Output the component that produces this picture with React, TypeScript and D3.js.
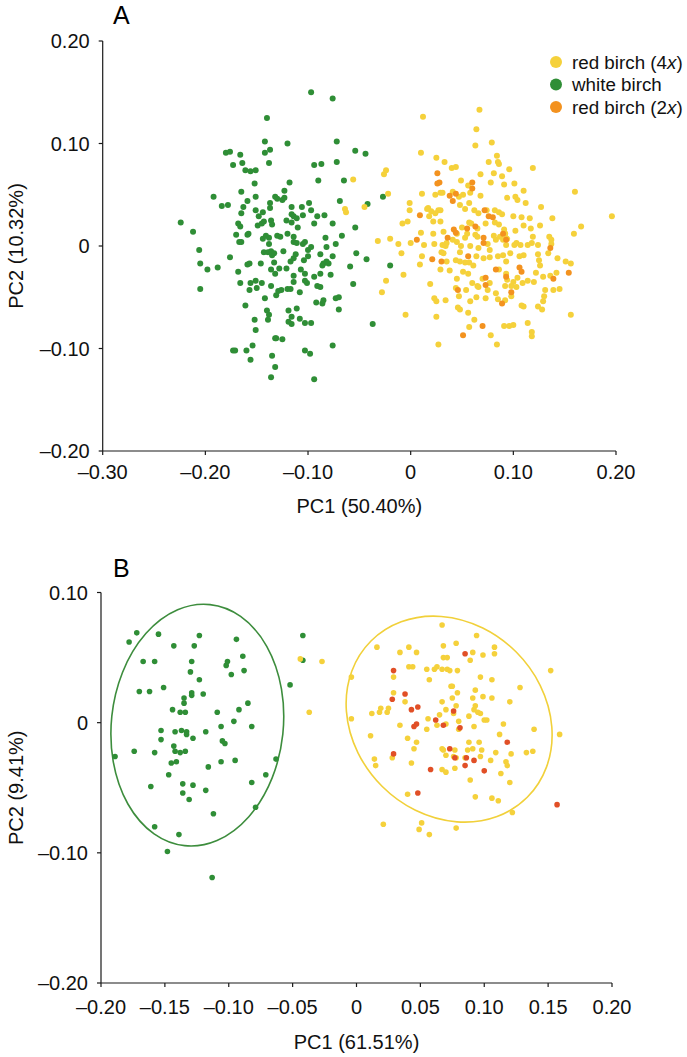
import React from "react";
import * as d3 from "d3";

type P = [number, number];

// ---------- Panel A data (PC1, PC2) ----------
const greenA: P[] = [
[-0.097,0.150],[-0.076,0.144],[-0.140,0.125],[-0.142,0.102],[-0.120,0.100],[-0.072,0.102],[-0.180,0.091],[-0.176,0.092],[-0.166,0.089],[-0.142,0.091],[-0.137,0.094],[-0.054,0.093],[-0.044,0.090],[-0.173,0.079],[-0.164,0.081],[-0.138,0.081],[-0.094,0.079],[-0.087,0.080],[-0.072,0.082],[-0.161,0.074],[-0.156,0.073],[-0.151,0.074],[-0.152,0.061],[-0.118,0.062],[-0.090,0.064],[-0.065,0.064],[-0.027,0.048],[-0.042,0.041],[-0.069,0.044],[-0.192,0.048],[-0.184,0.039],[-0.178,0.040],[-0.165,0.053],[-0.159,0.044],[-0.151,0.048],[-0.123,0.054],[-0.132,0.048],[-0.130,0.046],[-0.125,0.045],[-0.123,0.047],[-0.137,0.042],[-0.137,0.037],[-0.163,0.038],[-0.165,0.032],[-0.151,0.035],[-0.144,0.033],[-0.148,0.029],[-0.116,0.038],[-0.106,0.038],[-0.099,0.042],[-0.097,0.035],[-0.084,0.030],[-0.091,0.029],[-0.094,0.022],[-0.076,0.022],[-0.054,0.018],[-0.224,0.023],[-0.212,0.014],[-0.168,0.022],[-0.166,0.019],[-0.149,0.020],[-0.145,0.022],[-0.143,0.024],[-0.136,0.025],[-0.135,0.021],[-0.121,0.025],[-0.116,0.031],[-0.114,0.029],[-0.111,0.027],[-0.110,0.018],[-0.105,0.030],[-0.116,0.023],[-0.170,0.011],[-0.159,0.011],[-0.158,0.012],[-0.165,0.004],[-0.167,0.004],[-0.144,0.007],[-0.138,0.008],[-0.141,0.010],[-0.138,0.002],[-0.130,0.010],[-0.127,0.009],[-0.120,0.012],[-0.114,0.009],[-0.114,0.004],[-0.111,0.003],[-0.105,0.002],[-0.103,0.004],[-0.100,-0.004],[-0.097,-0.001],[-0.082,-0.001],[-0.083,0.008],[-0.073,0.002],[-0.067,0.010],[-0.206,-0.004],[-0.176,-0.011],[-0.143,-0.006],[-0.139,-0.006],[-0.136,-0.005],[-0.135,-0.009],[-0.133,-0.007],[-0.124,-0.005],[-0.117,-0.015],[-0.114,-0.012],[-0.112,-0.008],[-0.104,-0.014],[-0.100,-0.010],[-0.088,-0.008],[-0.085,-0.017],[-0.086,-0.019],[-0.082,-0.015],[-0.080,-0.017],[-0.076,-0.010],[-0.059,-0.020],[-0.053,-0.007],[-0.043,-0.013],[-0.205,-0.017],[-0.198,-0.023],[-0.188,-0.021],[-0.168,-0.025],[-0.159,-0.018],[-0.157,-0.017],[-0.146,-0.017],[-0.136,-0.023],[-0.133,-0.016],[-0.132,-0.027],[-0.128,-0.022],[-0.121,-0.022],[-0.114,-0.029],[-0.107,-0.023],[-0.103,-0.027],[-0.101,-0.036],[-0.094,-0.030],[-0.088,-0.027],[-0.078,-0.028],[-0.166,-0.036],[-0.157,-0.043],[-0.156,-0.036],[-0.151,-0.034],[-0.150,-0.041],[-0.145,-0.036],[-0.136,-0.039],[-0.131,-0.048],[-0.129,-0.044],[-0.126,-0.043],[-0.120,-0.042],[-0.117,-0.042],[-0.114,-0.035],[-0.108,-0.045],[-0.103,-0.034],[-0.091,-0.039],[-0.088,-0.040],[-0.205,-0.042],[-0.142,-0.051],[-0.092,-0.055],[-0.086,-0.056],[-0.085,-0.053],[-0.073,-0.051],[-0.070,-0.050],[-0.070,-0.062],[-0.056,-0.037],[-0.161,-0.058],[-0.140,-0.063],[-0.138,-0.067],[-0.139,-0.072],[-0.119,-0.063],[-0.116,-0.069],[-0.111,-0.061],[-0.108,-0.071],[-0.103,-0.075],[-0.097,-0.075],[-0.116,-0.076],[-0.119,-0.074],[-0.152,-0.072],[-0.151,-0.082],[-0.132,-0.090],[-0.131,-0.090],[-0.125,-0.091],[-0.173,-0.102],[-0.171,-0.102],[-0.160,-0.102],[-0.154,-0.097],[-0.156,-0.111],[-0.135,-0.107],[-0.132,-0.118],[-0.136,-0.128],[-0.103,-0.102],[-0.098,-0.105],[-0.094,-0.130],[-0.076,-0.097],[-0.037,-0.076],[-0.020,-0.019]
];

const yellowA: P[] = [
[-0.056,0.065],[-0.064,0.036],[-0.063,0.033],
[0.012,0.126],[0.067,0.133],[0.064,0.114],[0.063,0.098],[0.079,0.101],[0.010,0.091],[0.025,0.086],[0.033,0.082],[0.040,0.076],[0.044,0.077],[0.076,0.082],[0.084,0.088],[0.085,0.082],[0.086,0.080],[0.096,0.075],[0.119,0.076],[0.068,0.070],[0.081,0.071],[0.089,0.068],[-0.026,0.070],[-0.024,0.074],[-0.022,0.051],[-0.045,0.038],[0.011,0.051],[0.024,0.050],[0.029,0.052],[0.031,0.052],[0.041,0.053],[0.049,0.064],[0.056,0.059],[0.051,0.050],[0.058,0.052],[0.047,0.048],[0.068,0.049],[0.078,0.062],[0.091,0.060],[0.101,0.061],[0.110,0.054],[0.094,0.047],[0.102,0.048],[0.104,0.045],[0.112,0.042],[0.127,0.038],[0.160,0.053],[-0.001,0.042],[-0.001,0.035],[0.016,0.036],[0.017,0.037],[0.020,0.034],[0.024,0.032],[0.027,0.035],[0.029,0.035],[0.018,0.029],[0.022,0.024],[0.029,0.024],[0.048,0.040],[0.053,0.036],[0.057,0.042],[0.062,0.035],[0.066,0.032],[0.074,0.035],[0.082,0.035],[0.086,0.033],[0.089,0.031],[0.100,0.029],[0.108,0.028],[0.116,0.027],[0.138,0.027],[-0.008,0.022],[-0.003,0.024],[0.010,0.013],[0.022,0.012],[0.032,0.014],[0.045,0.012],[0.057,0.023],[0.050,0.018],[0.059,0.022],[0.065,0.017],[0.073,0.022],[0.082,0.023],[0.086,0.021],[0.091,0.016],[0.092,0.012],[0.102,0.015],[0.110,0.020],[0.117,0.017],[0.126,0.020],[0.166,0.019],[0.196,0.029],[0.159,0.012],[-0.032,0.005],[-0.020,0.007],[-0.012,0.002],[-0.009,-0.007],[0.000,0.003],[0.013,0.001],[0.023,0.002],[0.031,0.001],[0.034,0.000],[0.035,0.003],[0.041,0.006],[0.045,0.004],[0.055,0.012],[0.053,0.008],[0.049,0.000],[0.048,-0.006],[0.058,0.000],[0.063,0.011],[0.065,0.009],[0.066,-0.002],[0.075,0.002],[0.077,-0.004],[0.081,0.010],[0.083,0.006],[0.087,0.009],[0.090,0.006],[0.092,0.012],[0.094,0.007],[0.093,0.001],[0.101,0.001],[0.103,0.003],[0.107,0.001],[0.114,0.001],[0.119,0.009],[0.118,0.003],[0.124,0.001],[0.135,0.009],[0.137,0.006],[0.137,0.002],[0.011,-0.010],[0.009,-0.018],[0.030,-0.006],[0.032,-0.007],[0.035,-0.015],[0.044,-0.014],[0.048,-0.015],[0.053,-0.016],[0.057,-0.016],[0.064,-0.010],[0.061,-0.019],[0.071,-0.012],[0.077,-0.011],[0.085,-0.010],[0.090,-0.009],[0.097,-0.007],[0.093,-0.015],[0.106,-0.010],[0.110,-0.009],[0.124,-0.008],[0.125,-0.014],[0.126,-0.019],[0.134,-0.007],[0.143,-0.012],[0.151,-0.015],[0.156,-0.017],[-0.024,-0.034],[-0.028,-0.045],[-0.007,-0.028],[0.019,-0.037],[0.029,-0.023],[0.038,-0.024],[0.045,-0.032],[0.051,-0.025],[0.056,-0.027],[0.060,-0.036],[0.065,-0.039],[0.070,-0.032],[0.077,-0.036],[0.086,-0.023],[0.093,-0.027],[0.094,-0.033],[0.100,-0.035],[0.104,-0.031],[0.114,-0.034],[0.120,-0.035],[0.122,-0.026],[0.129,-0.030],[0.136,-0.029],[0.142,-0.026],[0.044,-0.041],[0.054,-0.043],[0.066,-0.040],[0.075,-0.043],[0.083,-0.046],[0.092,-0.039],[0.098,-0.039],[0.103,-0.040],[0.109,-0.036],[0.131,-0.043],[0.139,-0.043],[0.145,-0.042],[0.023,-0.051],[0.025,-0.054],[0.034,-0.053],[0.047,-0.049],[0.058,-0.054],[0.064,-0.050],[0.073,-0.051],[0.085,-0.052],[0.092,-0.053],[0.098,-0.049],[0.108,-0.058],[0.110,-0.059],[0.124,-0.059],[0.129,-0.054],[0.130,-0.049],[0.048,-0.062],[0.046,-0.060],[0.056,-0.065],[0.062,-0.072],[0.057,-0.079],[-0.005,-0.067],[0.025,-0.069],[0.078,-0.087],[0.091,-0.078],[0.096,-0.078],[0.100,-0.077],[0.114,-0.075],[0.118,-0.084],[0.118,-0.088],[0.128,-0.062],[0.156,-0.067],[0.027,-0.096],[0.084,-0.096]
];

const orangeA: P[] = [
[0.026,0.071],[0.028,0.062],[0.026,0.061],[0.060,0.062],[0.060,0.056],[0.038,0.049],[0.041,0.044],[0.044,0.051],[0.009,0.030],[0.072,0.035],[0.076,0.029],[0.080,0.028],[0.042,0.016],[0.044,0.013],[0.036,0.008],[0.006,0.006],[0.055,0.017],[0.063,0.019],[0.071,0.003],[0.071,0.008],[0.090,0.012],[0.021,-0.013],[0.030,-0.015],[0.056,-0.010],[0.083,-0.023],[0.106,-0.021],[0.108,-0.025],[0.093,-0.030],[0.073,-0.031],[0.073,-0.038],[0.046,-0.043],[0.098,-0.045],[0.089,-0.056],[0.154,-0.026],[0.139,-0.032],[0.070,-0.078],[0.051,-0.087],[0.136,-0.002],[0.093,0.006]
];

// ---------- Panel B data (PC1, PC2) ----------
const greenB: P[] = [
[-0.172,0.069],[-0.178,0.062],[-0.155,0.068],[-0.143,0.059],[-0.127,0.059],[-0.123,0.067],[-0.094,0.064],[-0.167,0.047],[-0.158,0.047],[-0.129,0.047],[-0.130,0.039],[-0.123,0.033],[-0.102,0.044],[-0.101,0.047],[-0.089,0.051],[-0.088,0.040],[-0.098,0.037],[-0.170,0.024],[-0.162,0.024],[-0.151,0.027],[-0.135,0.019],[-0.135,0.015],[-0.129,0.021],[-0.129,0.023],[-0.120,0.022],[-0.144,0.010],[-0.138,0.008],[-0.134,0.008],[-0.109,0.008],[-0.092,0.010],[-0.085,0.015],[-0.096,0.001],[-0.082,-0.003],[-0.106,-0.003],[-0.153,-0.006],[-0.142,-0.007],[-0.137,-0.006],[-0.133,-0.007],[-0.133,-0.009],[-0.128,-0.012],[-0.118,-0.007],[-0.105,-0.014],[-0.103,-0.016],[-0.153,-0.013],[-0.189,-0.026],[-0.174,-0.022],[-0.158,-0.023],[-0.143,-0.018],[-0.142,-0.022],[-0.138,-0.023],[-0.134,-0.022],[-0.145,-0.031],[-0.141,-0.030],[-0.147,-0.040],[-0.116,-0.034],[-0.106,-0.030],[-0.095,-0.029],[-0.063,-0.028],[-0.071,-0.040],[-0.082,-0.046],[-0.161,-0.049],[-0.136,-0.047],[-0.128,-0.048],[-0.136,-0.054],[-0.118,-0.052],[-0.131,-0.059],[-0.112,-0.070],[-0.079,-0.065],[-0.158,-0.080],[-0.139,-0.086],[-0.148,-0.099],[-0.113,-0.119],[-0.052,0.029],[-0.042,0.067],[-0.042,0.048]
];

const yellowB: P[] = [
[-0.044,0.049],[-0.027,0.047],[-0.037,0.008],
[0.067,0.075],[0.094,0.067],[0.016,0.058],[0.034,0.054],[0.041,0.058],[0.047,0.054],[0.068,0.059],[0.078,0.061],[0.091,0.054],[0.099,0.052],[0.108,0.058],[0.108,0.053],[0.089,0.048],[0.068,0.050],[0.071,0.050],[0.041,0.043],[0.044,0.043],[0.055,0.041],[0.061,0.041],[0.063,0.043],[0.067,0.041],[0.071,0.041],[0.073,0.040],[0.079,0.040],[0.057,0.033],[0.097,0.035],[0.106,0.033],[0.152,0.040],[-0.004,0.035],[0.029,0.035],[0.029,0.023],[0.038,0.016],[0.074,0.028],[0.075,0.028],[0.079,0.023],[0.093,0.025],[0.091,0.019],[0.099,0.020],[0.106,0.019],[0.128,0.027],[0.120,0.016],[0.075,0.019],[0.067,0.016],[0.078,0.013],[0.070,0.010],[0.019,0.011],[0.018,0.008],[0.012,0.007],[0.024,0.008],[0.025,0.011],[-0.004,0.003],[0.056,0.003],[0.063,-0.002],[0.065,0.006],[0.070,-0.001],[0.076,0.007],[0.080,0.001],[0.080,-0.005],[0.088,0.005],[0.092,0.010],[0.093,0.013],[0.095,0.008],[0.097,0.007],[0.100,0.002],[0.102,0.002],[0.092,-0.003],[0.115,-0.001],[0.112,-0.009],[0.139,-0.005],[0.159,-0.009],[0.011,-0.010],[0.034,-0.002],[0.055,-0.005],[0.040,-0.012],[0.047,-0.015],[0.045,-0.020],[0.067,-0.020],[0.068,-0.021],[0.070,-0.025],[0.077,-0.021],[0.078,-0.027],[0.076,-0.026],[0.085,-0.027],[0.088,-0.015],[0.096,-0.015],[0.091,-0.020],[0.087,-0.021],[0.098,-0.021],[0.097,-0.026],[0.109,-0.023],[0.105,-0.029],[0.117,-0.030],[0.118,-0.033],[0.121,-0.024],[0.133,-0.023],[0.138,-0.022],[0.028,-0.027],[0.014,-0.028],[0.015,-0.033],[0.043,-0.031],[0.067,-0.036],[0.070,-0.038],[0.077,-0.035],[0.089,-0.044],[0.113,-0.039],[0.120,-0.046],[0.040,-0.055],[0.093,-0.057],[0.106,-0.058],[0.111,-0.060],[0.122,-0.069],[0.021,-0.078],[0.051,-0.077],[0.049,-0.082],[0.057,-0.086],[0.078,-0.081]
];

const redB: P[] = [
[0.029,0.040],[0.085,0.053],[0.038,0.022],[0.028,0.018],[0.043,0.010],[0.048,0.012],[0.076,0.009],[0.062,0.002],[0.068,-0.002],[0.081,-0.004],[0.045,-0.003],[0.047,-0.001],[0.118,-0.015],[0.073,-0.020],[0.086,-0.027],[0.092,-0.029],[0.085,-0.033],[0.100,-0.037],[0.058,-0.036],[0.029,-0.024],[0.048,-0.054],[0.157,-0.063],[0.077,-0.027]
];

// confidence ellipses: [cx, cy, rx (PC1 units), ry (PC2 units), rotation deg]
const ellipseGreenB = [-0.1246, -0.0019, 0.0673, 0.0931, 6];
const ellipseYellowB = [0.0725, 0.0027, 0.0865, 0.0729, 45];

const xTicksA = [-0.3, -0.2, -0.1, 0, 0.1, 0.2];
const yTicksA = [-0.2, -0.1, 0, 0.1, 0.2];
const xTicksB = [-0.2, -0.15, -0.1, -0.05, 0, 0.05, 0.1, 0.15, 0.2];
const yTicksB = [-0.2, -0.1, 0, 0.1];

const legendItems = [
  { pre: "red birch (4", it: "x", post: ")", key: "y" },
  { pre: "white birch", it: "", post: "", key: "g" },
  { pre: "red birch (2", it: "x", post: ")", key: "o" },
];

const C = {
  yellow: "#f5d13b",
  green: "#2f8e36",
  orange: "#f3921f",
  red: "#e14f26",
  greenLine: "#3d8d3d",
  yellowLine: "#f1d03a",
  axis: "#1a1a1a",
};

const FONT = "'Liberation Sans', Arial, Helvetica, sans-serif";
const FS = 20;

const fmt = (v: number) => {
  if (Math.abs(v) < 1e-9) return "0";
  return (v < 0 ? "\u2013" : "") + Math.abs(v).toFixed(2);
};

function Axes({ x, y, xt, yt, xLabelDy, title, ytitle, xtitleY }: any) {
  const [x0, x1] = x.range();
  const [y0, y1] = y.range();
  return (
    <g fontFamily={FONT} fontSize={FS} fill="#111">
      <line x1={x0} x2={x0} y1={y1} y2={y0} stroke={C.axis} strokeWidth={1.2} />
      <line x1={x0} x2={x1} y1={y0} y2={y0} stroke={C.axis} strokeWidth={1.2} />
      {yt.map((t: number) => (
        <g key={"y" + t}>
          <line x1={x0 - 4} x2={x0} y1={y(t)} y2={y(t)} stroke={C.axis} strokeWidth={1.2} />
          <text x={x0 - 13} y={y(t)} dy="0.36em" textAnchor="end">{fmt(t)}</text>
        </g>
      ))}
      {xt.map((t: number) => (
        <g key={"x" + t}>
          <line x1={x(t)} x2={x(t)} y1={y0} y2={y0 + 4} stroke={C.axis} strokeWidth={1.2} />
          <text x={x(t)} y={y0 + xLabelDy} textAnchor="middle">{fmt(t)}</text>
        </g>
      ))}
      <text x={(x0 + x1) / 2} y={xtitleY} textAnchor="middle">{title}</text>
      <text transform={`translate(23,${(y0 + y1) / 2}) rotate(-90)`} textAnchor="middle">{ytitle}</text>
    </g>
  );
}

export default function App() {
  const xA = d3.scaleLinear().domain([-0.3, 0.2]).range([102.7, 616]);
  const yA = d3.scaleLinear().domain([-0.2, 0.2]).range([451, 41]);
  const xB = d3.scaleLinear().domain([-0.2, 0.2]).range([101, 612]);
  const yB = d3.scaleLinear().domain([-0.2, 0.1]).range([983, 592.5]);

  const dots = (data: P[], x: any, y: any, fill: string, r: number, k: string) =>
    data.map((d, i) => <circle key={k + i} cx={x(d[0])} cy={y(d[1])} r={r} fill={fill} />);

  const ell = (e: number[], stroke: string) => {
    const cx = xB(e[0]);
    const cy = yB(e[1]);
    const rx = xB(e[0] + e[2]) - cx;
    const ry = cy - yB(e[1] + e[3]);
    return (
      <ellipse cx={cx} cy={cy} rx={rx} ry={ry} fill="none" stroke={stroke} strokeWidth={1.6}
        transform={`rotate(${e[4]} ${cx} ${cy})`} />
    );
  };

  const legendColor: Record<string, string> = { y: C.yellow, g: C.green, o: C.orange };

  return (
    <svg width={687} height={1057} style={{ position: "absolute", left: 0, top: 0, background: "#fff" }}>
      <rect width={687} height={1057} fill="#fff" />
      {/* Panel A */}
      <text x={113} y={24} fontFamily={FONT} fontSize={25}>A</text>
      <Axes x={xA} y={yA} xt={xTicksA} yt={yTicksA} xLabelDy={28} title="PC1 (50.40%)" ytitle="PC2 (10.32%)" xtitleY={513} />
      {dots(greenA, xA, yA, C.green, 3, "ga")}
      {dots(yellowA, xA, yA, C.yellow, 3, "ya")}
      {dots(orangeA, xA, yA, C.orange, 3, "oa")}
      <g fontFamily={FONT} fontSize={18.8} fill="#111">
        {legendItems.map((it, i) => (
          <g key={it.key}>
            <circle cx={556} cy={62 + i * 22.5} r={6} fill={legendColor[it.key]} />
            <text x={572} y={62 + i * 22.5} dy="0.35em">
              {it.pre}
              {it.it && <tspan fontStyle="italic">{it.it}</tspan>}
              {it.post}
            </text>
          </g>
        ))}
      </g>

      {/* Panel B */}
      <text x={113} y={577} fontFamily={FONT} fontSize={25}>B</text>
      <Axes x={xB} y={yB} xt={xTicksB} yt={yTicksB} xLabelDy={31} title="PC1 (61.51%)" ytitle="PC2 (9.41%)" xtitleY={1049} />
      {ell(ellipseGreenB, C.greenLine)}
      {ell(ellipseYellowB, C.yellowLine)}
      {dots(greenB, xB, yB, C.green, 2.8, "gb")}
      {dots(yellowB, xB, yB, C.yellow, 2.8, "yb")}
      {dots(redB, xB, yB, C.red, 2.8, "rb")}
    </svg>
  );
}
